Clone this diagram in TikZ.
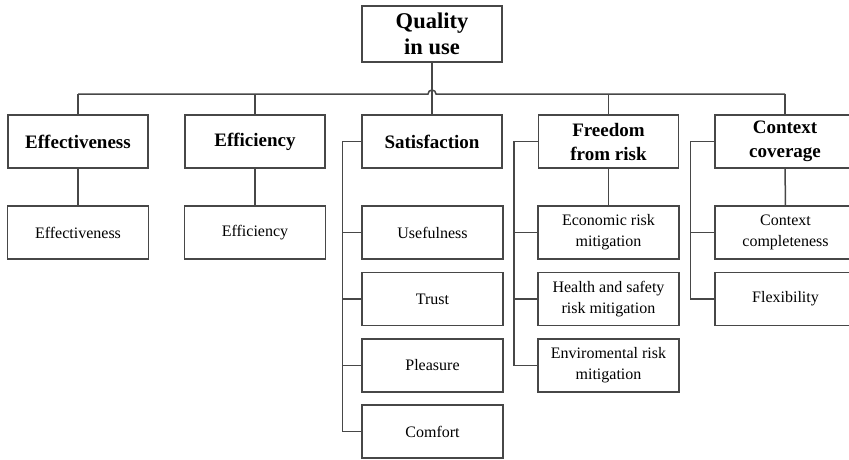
\documentclass[tikz,border=0pt]{standalone}
\usepackage{fontspec}
\setmainfont{Liberation Serif}
\usepackage{tikz}
\tikzset{
  topbox/.style ={draw=black!72, line width=1.5pt, minimum width=140pt, minimum height=56pt, align=center, inner sep=0pt, font=\fontsize{22.5}{26}\selectfont\bfseries},
  headbox/.style={draw=black!72, line width=1.5pt, minimum width=140pt, minimum height=53pt, align=center, inner sep=0pt, font=\fontsize{19}{24}\selectfont\bfseries},
  subbox/.style ={draw=black!72, line width=1.5pt, minimum width=141pt, minimum height=53pt, align=center, inner sep=0pt, font=\fontsize{16}{21}\selectfont},
  link/.style   ={draw=black!72, line width=1.5pt},
}
\begin{document}
\begin{tikzpicture}[x=1pt,y=-1pt]
  \useasboundingbox (0,0) rectangle (849,459);
  \node[topbox] (root) at (432,34){Quality\\in use};
  \coordinate (bus) at (432,94);
  % first level
  \node[headbox] (eff)   at (78,141.5){Effectiveness};
  \node[headbox] (effy)  at (255,141.5){Efficiency};
  \node[headbox] (sat)   at (432,141.5){Satisfaction};
  \node[headbox] (freed) at (608.5,141.5){Freedom\\from risk};
  \node[headbox] (ctx)   at (785,141.5){Context\\coverage};
  % second level
  \node[subbox] (effc)   at (78,232.5){Effectiveness};
  \node[subbox] (effyc)  at (255,232.5){Efficiency};
  \node[subbox] (useful) at (432.5,232.5){Usefulness};
  \node[subbox] (trust)  at (432.5,299){Trust};
  \node[subbox] (pleas)  at (432.5,365.5){Pleasure};
  \node[subbox] (comf)   at (432.5,431.5){Comfort};
  \node[subbox] (econ)   at (608.5,232.5){Economic risk\\mitigation};
  \node[subbox] (health) at (608.5,299){Health and safety\\risk mitigation};
  \node[subbox] (envir)  at (608.5,365.5){Enviromental risk\\mitigation};
  \node[subbox] (ctxc)   at (785.5,232.5){Context\\completeness};
  \node[subbox] (flex)   at (785.5,299){Flexibility};
  % bus with hop over the root line
  \draw[link] (eff.north |- bus) -- ([xshift=-4pt]bus) arc[start angle=180, end angle=0, radius=4pt] -- (ctx.north |- bus);
  \draw[link] (root.south) -- (sat.north);
  \foreach \n in {eff,effy,freed,ctx}{\draw[link] (\n.north) -- (\n.north |- bus);}
  \draw[link] (eff) -- (effc);
  \draw[link] (effy) -- (effyc);
  \draw[link] (freed) -- (econ);
  \draw[link] (ctx) -- (ctxc);
  % side brackets
  \draw[link] (sat.west) -- ++(-19,0) |- (comf.west);
  \foreach \n in {useful,trust,pleas}{\draw[link] (\n.west) -- ++(-19,0);}
  \draw[link] (freed.west) -- ++(-24,0) |- (envir.west);
  \foreach \n in {econ,health}{\draw[link] (\n.west) -- ++(-24,0);}
  \draw[link] (ctx.west) -- ++(-24,0) |- (flex.west);
  \draw[link] (ctxc.west) -- ++(-24,0);
\end{tikzpicture}
\end{document}
